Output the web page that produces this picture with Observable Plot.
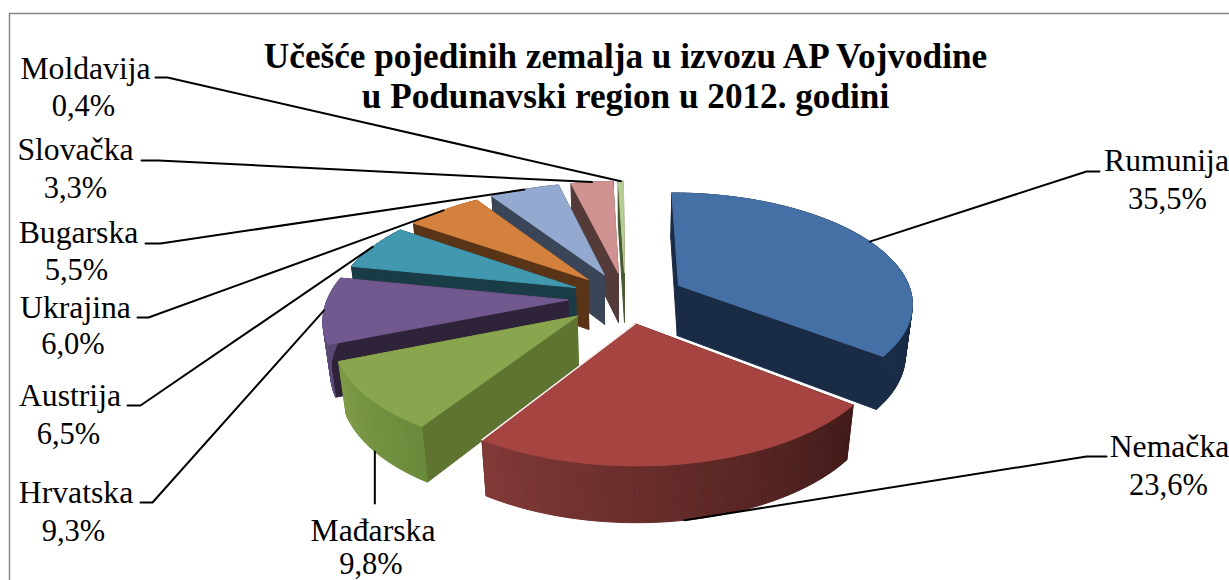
<!DOCTYPE html>
<html><head><meta charset="utf-8">
<script src="https://cdn.jsdelivr.net/npm/d3@7"></script>
<script src="https://cdn.jsdelivr.net/npm/@observablehq/plot@0.6"></script>
<style>html,body{margin:0;padding:0;background:#fff;overflow:hidden}</style>
</head><body><div id="chart"></div>
<script>
const titleLines = ["Učešće pojedinih zemalja u izvozu AP Vojvodine", "u Podunavski region u 2012. godini"];
const countries = ["Rumunija","Nemačka","Mađarska","Hrvatska","Austrija","Ukrajina","Bugarska","Slovačka","Moldavija"];
const shares = [35.5,23.6,9.8,9.3,6.5,6.0,5.5,3.3,0.4];

// styling per slice
const topColors  = ["#4570a5","#a54440","#89a54e","#71588f","#4198af","#d4813d","#93a9cf","#d19392","#b9cd96"];
const sideColors = ["#1a2c45","#421b19","#5f7431","#2e2339","#1a3c46","#5a3416","#3b4558","#553a3a","#4a5a35"];
const wallStart  = ["#1a2c45","#421b19","#6a8a3b","#5b4a78","#1a3c46","#5a3416","#3b4558","#553a3a","#4a5a35"];
const wallEnd    = ["#1a2c45","#823a37","#7f9d48","#5b4a78","#1a3c46","#5a3416","#3b4558","#553a3a","#4a5a35"];
const paintOrder = [8,7,6,5,4,3,0,2,1];
const explosions = [0.25,0.23,0.255,0.24,0.23,0.23,0.23,0.23,0.23];
const radii      = [0.975,1,0.975,1,1,1,1,1,1];

// label layout (pixels)
const nameX = [1166,1169,372.5,75.5,69.5,75,78,75,85];
const nameY = [170,456,540,502,405,317,242,159,78];
const pctX  = [1167,1168,370.5,73,68,72.5,76,75,83];
const pctY  = [208,494,573,540,443,353,279,197,115];
const elbowA = [[1099,171],[1106,456],[null,503],[140,502],[127,405],[137,317],[145,243],[141,160],[155,77]];
const elbowB = [[1086,171],[1086,456],[null,503],[152,502],[140,405],[148,317],[160,243],[158,160],[167,77]];
const leaderOnBottom = [false,true,true,false,false,false,false,false,false];

// 3D view of the pie
const cx = 625, cy = 297, a = 240, b = 112, k = 0.15, m = 0.025, depth = 52;
const rad = d => d * Math.PI / 180;
function project(X, Y, bottom) {
  const f = 1 / (1 - k * Y + (bottom ? m : 0));
  return {x: cx + a * X * f, y: cy + (b * Y + (bottom ? depth : 0)) * f};
}

let acc = 0;
const slices = countries.map((name, i) => {
  const s = acc / 100 * 360; acc += shares[i];
  const e = acc / 100 * 360; const mid = (s + e) / 2;
  return {name, i, s, e, mid, r: radii[i],
    ox: explosions[i] * Math.sin(rad(mid)), oy: -explosions[i] * Math.cos(rad(mid))};
});
const rim = (sl, t, bottom) => project(sl.ox + sl.r * Math.sin(rad(t)), sl.oy - sl.r * Math.cos(rad(t)), bottom);
const apex = (sl, bottom) => project(sl.ox, sl.oy, bottom);

const rows = [];
let id = 0;
function poly(pts, color) {
  id++;
  [...pts, pts[0]].forEach(p => rows.push({id, x: p.x, y: p.y, color}));
}
for (const i of paintOrder) {
  const sl = slices[i];
  poly([apex(sl,false), rim(sl,sl.s,false), rim(sl,sl.s,true), apex(sl,true)], sideColors[i]);
  poly([apex(sl,false), rim(sl,sl.e,false), rim(sl,sl.e,true), apex(sl,true)], sideColors[i]);
  const n = Math.max(1, Math.ceil(sl.e - sl.s));
  const mix = d3.interpolateRgb(wallStart[i], wallEnd[i]);
  for (let j = 0; j < n; j++) {
    const t0 = sl.s + (sl.e - sl.s) * j / n, t1 = sl.s + (sl.e - sl.s) * (j + 1) / n;
    poly([rim(sl,t0,false), rim(sl,t1,false), rim(sl,t1,true), rim(sl,t0,true)], mix(j / n));
  }
  const arc = d3.range(n + 1).map(j => rim(sl, sl.s + (sl.e - sl.s) * j / n, false));
  poly([apex(sl,false), ...arc], topColors[i]);
}

// thin white edge between Nemačka's top and the green wall behind it
const nem = slices[1];
const halo = [apex(nem,false), rim(nem,nem.e,false)];

const leaders = [];
slices.forEach(sl => {
  const end = rim(sl, sl.mid, leaderOnBottom[sl.i]);
  const A = elbowA[sl.i], B = elbowB[sl.i];
  [{x: A[0] ?? end.x, y: A[1]}, {x: B[0] ?? end.x, y: B[1]}, end]
    .forEach(p => leaders.push({name: sl.name, ...p}));
});
const names = slices.map(sl => ({x: nameX[sl.i], y: nameY[sl.i], text: sl.name}));
const pcts = slices.map(sl => ({x: pctX[sl.i], y: pctY[sl.i], text: shares[sl.i].toFixed(1).replace(".", ",") + "%"}));

const chart = Plot.plot({
  width: 1229, height: 580, margin: 0,
  style: {background: "#fff", fontFamily: "'Liberation Serif', serif"},
  x: {type: "identity", axis: null},
  y: {type: "identity", axis: null},
  color: {type: "identity"},
  marks: [
    Plot.ruleX([9], {y1: 13, y2: 580, stroke: "#868686", strokeWidth: 1.5}),
    Plot.ruleY([13], {x1: 9, x2: 1229, stroke: "#868686", strokeWidth: 1.5}),
    Plot.line(rows, {x: "x", y: "y", z: "id", fill: "color", stroke: "color", strokeWidth: 1}),
    Plot.line(halo, {x: "x", y: "y", stroke: "#fff", strokeWidth: 1.4}),
    Plot.line(leaders, {x: "x", y: "y", z: "name", stroke: "#000", strokeWidth: 2, curve: "linear"}),
    Plot.text(names, {x: "x", y: "y", text: "text", lineAnchor: "bottom", fontSize: 31.7, fill: "#000", textAnchor: "middle"}),
    Plot.text(pcts, {x: "x", y: "y", text: "text", lineAnchor: "bottom", fontSize: 30.5, fill: "#000", textAnchor: "middle"}),
    Plot.text([titleLines.join("\n")], {x: () => 625, y: () => 107, text: d => d, lineAnchor: "bottom",
      lineHeight: 1.13, fontSize: 35.2, fontWeight: "bold", fill: "#000", textAnchor: "middle"})
  ]
});
document.getElementById("chart").appendChild(chart);
</script>
</body></html>
